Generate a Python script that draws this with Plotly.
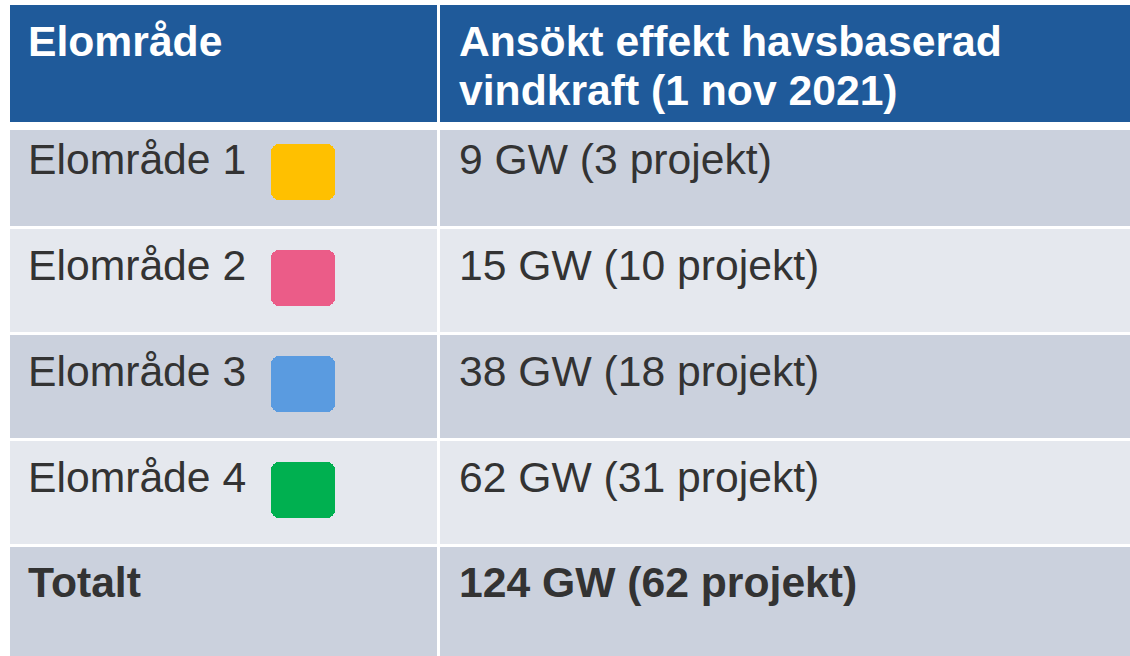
import plotly.graph_objects as go

# ---------------- data ----------------
HEADER_COL1 = "Elområde"
HEADER_COL2_LINES = ["Ansökt effekt havsbaserad", "vindkraft (1 nov 2021)"]
REGIONS = ["Elområde 1", "Elområde 2", "Elområde 3", "Elområde 4"]
CAPACITY_GW = [9, 15, 38, 62]
PROJECTS = [3, 10, 18, 31]
REGION_COLORS = ["#FFC000", "#EB5C88", "#5A9BE0", "#00B050"]
TOTAL_LABEL = "Totalt"
TOTAL_GW = 124
TOTAL_PROJECTS = 62

# ---------------- style ----------------
FONT = "Liberation Sans, Arial, sans-serif"
FS = 42.67
TEXT_DARK = "#333333"
HEADER_BG = "#1F5A9A"
ROW_DARK = "#CBD1DD"
ROW_LIGHT = "#E5E8EE"

W, H = 1130, 656
COL_BASE = [10, 440]
COL_LEN = [427.3, 720]
TEXT_X = [25.6, 456.5]
ROW_W = 0.9745
SQ_CENTER = 303
SQ_HALF = 32.3
SQ_W = 0.529
SQ_OFF = -0.288

rows = REGIONS + [TOTAL_LABEL]
row_colors = [ROW_DARK if i % 2 == 0 else ROW_LIGHT for i in range(len(rows))]
widths = [ROW_W] * len(REGIONS) + [1.6]
offsets = [-ROW_W / 2] * len(rows)

col2_text = [f"{g} GW ({p} projekt)" for g, p in zip(CAPACITY_GW, PROJECTS)]
total_text = f"{TOTAL_GW} GW ({TOTAL_PROJECTS} projekt)"

fig = go.Figure()

# header cells
fig.add_trace(go.Bar(
    orientation="h", y=["hdr", "hdr"], x=COL_LEN, base=COL_BASE, width=1,
    marker=dict(color=HEADER_BG, line=dict(width=0)),
    xaxis="x", yaxis="y2", hoverinfo="skip", showlegend=False))

# body cells (two columns)
for c in range(2):
    fig.add_trace(go.Bar(
        orientation="h", y=rows, x=[COL_LEN[c]] * len(rows), base=COL_BASE[c],
        width=widths, offset=offsets,
        marker=dict(color=row_colors, line=dict(width=0)),
        xaxis="x", yaxis="y", hoverinfo="skip", showlegend=False))

# colour keys (rounded squares built from two bars rounded at their tips)
for sign in (1, -1):
    fig.add_trace(go.Bar(
        orientation="h", y=REGIONS,
        x=[sign * (SQ_HALF + 10)] * len(REGIONS),
        base=SQ_CENTER - sign * 10,
        width=SQ_W, offset=SQ_OFF,
        marker=dict(color=REGION_COLORS, line=dict(width=0), cornerradius=8),
        xaxis="x", yaxis="y", hoverinfo="skip", showlegend=False))

annotations = []
BASE_SHIFT = 15.0

def ann(text, x, y, yref, shift, bold=False, color=TEXT_DARK):
    annotations.append(dict(
        text=f"<b>{text}</b>" if bold else text,
        x=x, y=y, xref="x", yref=yref, xanchor="left", yanchor="middle",
        yshift=shift, showarrow=False,
        font=dict(family=FONT, size=FS, color=color)))

# header text
ann(HEADER_COL1, TEXT_X[0], "hdr", "y2", BASE_SHIFT + 7.5, bold=True, color="white")
ann(HEADER_COL2_LINES[0], TEXT_X[1], "hdr", "y2", BASE_SHIFT + 7.5, bold=True, color="white")
ann(HEADER_COL2_LINES[1], TEXT_X[1], "hdr", "y2", BASE_SHIFT - 41.5, bold=True, color="white")

# body text
for r, t in zip(REGIONS, col2_text):
    ann(r, TEXT_X[0], r, "y", BASE_SHIFT + 0.5)
    ann(t, TEXT_X[1], r, "y", BASE_SHIFT + 0.5)
ann(TOTAL_LABEL, TEXT_X[0], TOTAL_LABEL, "y", BASE_SHIFT + 1.5, bold=True)
ann(total_text, TEXT_X[1], TOTAL_LABEL, "y", BASE_SHIFT + 1.5, bold=True)

fig.update_layout(
    template="none",
    width=W, height=H,
    margin=dict(l=0, r=0, t=0, b=0),
    paper_bgcolor="white", plot_bgcolor="rgba(0,0,0,0)",
    barmode="overlay", bargap=0,
    hovermode=False, showlegend=False,
    xaxis=dict(range=[0, W], domain=[0, 1], visible=False, fixedrange=True),
    yaxis=dict(type="category", categoryorder="array", categoryarray=rows,
               range=[4.546, -0.4232], domain=[0, 1 - 130 / H],
               visible=False, fixedrange=True),
    yaxis2=dict(type="category", range=[-0.5, 0.5],
                domain=[1 - 122 / H, 1 - 5 / H], anchor="x",
                visible=False, fixedrange=True),
    annotations=annotations,
)

fig.write_html(
    "out.html",
    config={"displayModeBar": False},
    post_script="document.body.style.margin='0';document.body.style.overflow='hidden';",
)
